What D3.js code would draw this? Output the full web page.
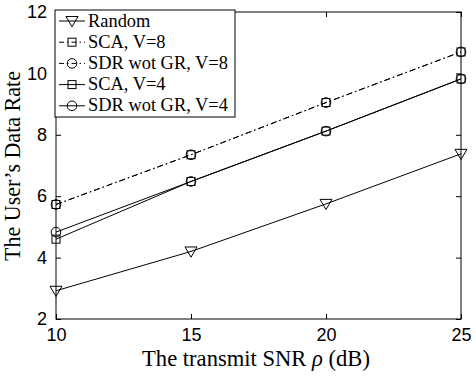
<!DOCTYPE html>
<html><head><meta charset="utf-8">
<script src="https://cdn.jsdelivr.net/npm/d3@7"></script>
<style>body{margin:0;background:#fff}</style>
</head><body>
<svg id="c" width="476" height="376"></svg>
<script>
const snr = [10, 15, 20, 25];
const random = [2.92, 4.2, 5.75, 7.38];
const scaV8 = [5.73, 7.35, 9.05, 10.7];
const sdrV8 = [5.73, 7.35, 9.05, 10.7];
const scaV4 = [4.6, 6.48, 8.12, 9.82];
const sdrV4 = [4.83, 6.48, 8.12, 9.82];
const xTicks = [10, 15, 20, 25];
const yTicks = [2, 4, 6, 8, 10, 12];
const seriesNames = ["Random", "SCA, V=8", "SDR wot GR, V=8", "SCA, V=4", "SDR wot GR, V=4"];
const seriesVals = [random, scaV8, sdrV8, scaV4, sdrV4];
const seriesMarker = ["tri", "sq", "circ", "sq", "circ"];
const seriesDash = [null, "6,3,1.5,3", "6,3,1.5,3", null, null];

const L = 56, R = 461, T = 12, B = 319;
const svg = d3.select("#c");
const x = d3.scaleLinear().domain([10, 25]).range([L, R]);
const y = d3.scaleLinear().domain([2, 12]).range([B, T]);
const serif = "Liberation Serif, DejaVu Serif, serif";

svg.append("rect").attr("x", L).attr("y", T).attr("width", R - L).attr("height", B - T)
  .attr("fill", "none").attr("stroke", "#000").attr("stroke-width", 1);

const tickFont = "Liberation Sans, Arial, sans-serif";
const gx = svg.append("g").attr("transform", `translate(0,${B})`)
  .call(d3.axisBottom(x).tickValues(xTicks).tickSize(-5).tickPadding(9).tickFormat(d3.format("d")));
const gxt = svg.append("g").attr("transform", `translate(0,${T})`)
  .call(d3.axisTop(x).tickValues(xTicks).tickSize(-5).tickFormat(""));
const gy = svg.append("g").attr("transform", `translate(${L},0)`)
  .call(d3.axisLeft(y).tickValues(yTicks).tickSize(-5).tickPadding(9).tickFormat(d3.format("d")));
const gyr = svg.append("g").attr("transform", `translate(${R},0)`)
  .call(d3.axisRight(y).tickValues(yTicks).tickSize(-5).tickFormat(""));
[gx, gxt, gy, gyr].forEach(g => {
  g.select(".domain").remove();
  g.selectAll("line").attr("stroke", "#000");
  g.selectAll("text").attr("fill", "#000").style("font-family", tickFont).style("font-size", "18px");
});

const line = d3.line().x((d, i) => x(snr[i])).y(d => y(d));

function marker(g, type, cx, cy) {
  if (type === "tri") {
    const s = 6;
    g.append("path").attr("d", `M${cx - s},${cy - s * 0.75}L${cx + s},${cy - s * 0.75}L${cx},${cy + s * 0.95}Z`)
      .attr("fill", "none").attr("stroke", "#000").attr("stroke-width", 1);
  } else if (type === "sq") {
    g.append("rect").attr("x", cx - 4).attr("y", cy - 4).attr("width", 8).attr("height", 8)
      .attr("fill", "none").attr("stroke", "#000").attr("stroke-width", 1);
  } else {
    g.append("circle").attr("cx", cx).attr("cy", cy).attr("r", 4.8)
      .attr("fill", "none").attr("stroke", "#000").attr("stroke-width", 1);
  }
}

const plot = svg.append("g");
seriesVals.forEach((vals, k) => {
  plot.append("path").datum(vals).attr("d", line).attr("fill", "none")
    .attr("stroke", "#000").attr("stroke-width", 1)
    .attr("stroke-dasharray", seriesDash[k]);
  vals.forEach((v, i) => marker(plot, seriesMarker[k], x(snr[i]), y(v)));
});

function fitText(sel, target) {
  const w = sel.node().getComputedTextLength();
  const fs = parseFloat(sel.style("font-size"));
  sel.style("font-size", (fs * target / w) + "px");
}

// legend
const lg = svg.append("g");
const lx = 55, ly = 10, lw = 180, lh = 107;
lg.append("rect").attr("x", lx).attr("y", ly).attr("width", lw).attr("height", lh)
  .attr("fill", "#fff").attr("stroke", "#000").attr("stroke-width", 1);
const legTexts = [];
seriesNames.forEach((name, k) => {
  const yy = ly + 11 + k * 21.2;
  lg.append("line").attr("x1", 59).attr("x2", 85).attr("y1", yy).attr("y2", yy)
    .attr("stroke", "#000").attr("stroke-width", 1).attr("stroke-dasharray", seriesDash[k] ? "5,3,1.5,3" : null);
  marker(lg, seriesMarker[k], 72, yy);
  legTexts.push(lg.append("text").attr("x", 88).attr("y", yy + 5.5).text(name)
    .style("font-family", serif).style("font-size", "16px").attr("fill", "#000"));
});
{
  const w = legTexts[2].node().getComputedTextLength();
  const fs = 16 * 140 / w;
  legTexts.forEach(t => t.style("font-size", fs + "px"));
}

// axis labels
const xl = svg.append("text").attr("x", 256).attr("y", 366).attr("text-anchor", "middle")
  .style("font-family", serif).style("font-size", "18px").attr("fill", "#000")
  .html('The transmit SNR <tspan font-style="italic">ρ</tspan> (dB)');
fitText(xl, 228);
const yl = svg.append("text").attr("transform", `translate(20,166) rotate(-90)`).attr("text-anchor", "middle")
  .style("font-family", serif).style("font-size", "18px").attr("fill", "#000")
  .text("The User’s Data Rate");
fitText(yl, 190);
</script>
</body></html>
